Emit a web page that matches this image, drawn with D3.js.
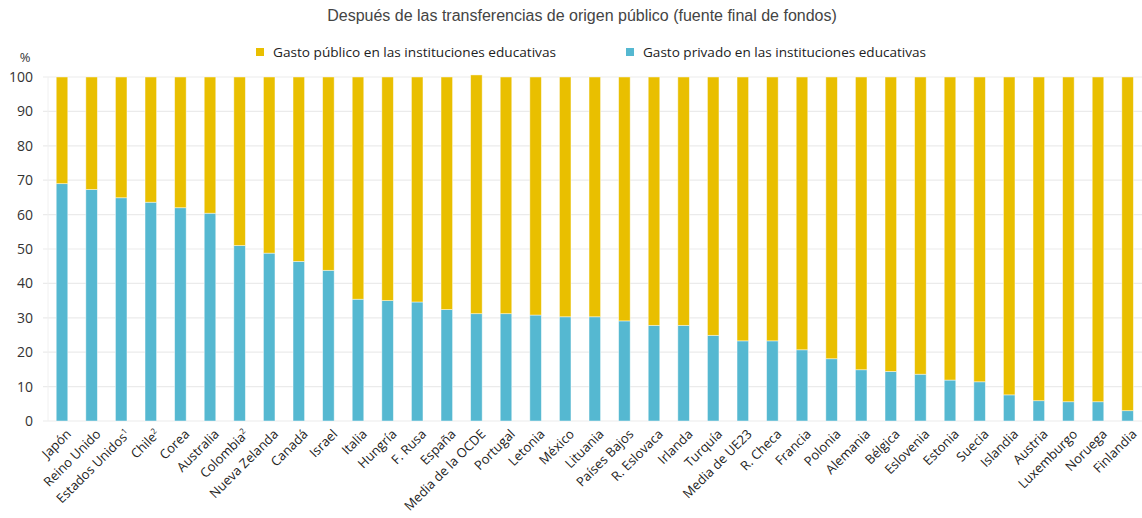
<!DOCTYPE html>
<html lang="es">
<head>
<meta charset="UTF-8" />
<title>Gasto público y privado</title>
<script src="https://cdn.jsdelivr.net/npm/d3@7"></script>
<style>
  body { margin: 0; background: #fff; }
  svg { display: block; }
</style>
</head>
<body>
<script>
    // data
    const countries = ["Japón", "Reino Unido", "Estados Unidos", "Chile", "Corea", "Australia", "Colombia",
        "Nueva Zelanda", "Canadá", "Israel", "Italia", "Hungría", "F. Rusa", "España", "Media de la OCDE",
        "Portugal", "Letonia", "México", "Lituania", "Países Bajos", "R. Eslovaca", "Irlanda", "Turquía",
        "Media de UE23", "R. Checa", "Francia", "Polonia", "Alemania", "Bélgica", "Eslovenia", "Estonia",
        "Suecia", "Islandia", "Austria", "Luxemburgo", "Noruega", "Finlandia"];
    const notes = { "Estados Unidos": "1", "Chile": "2", "Colombia": "2" };

    const privado = [69.0, 67.3, 64.9, 63.6, 62.0, 60.4, 51.0, 48.8, 46.4, 43.8, 35.4, 35.0, 34.6, 32.4, 31.2,
        31.2, 30.8, 30.3, 30.3, 29.1, 27.8, 27.8, 24.9, 23.3, 23.3, 20.7, 18.1, 14.9, 14.4, 13.6, 11.9,
        11.4, 7.6, 5.9, 5.6, 5.6, 3.0];
    const publico = [31.0, 32.7, 35.1, 36.4, 38.0, 39.6, 49.0, 51.2, 53.6, 56.2, 64.6, 65.0, 65.4, 67.6, 69.4,
        68.8, 69.2, 69.7, 69.7, 70.9, 72.2, 72.2, 75.1, 76.7, 76.7, 79.3, 81.9, 85.1, 85.6, 86.4, 88.1,
        88.6, 92.4, 94.1, 94.4, 94.4, 97.0];

    const yTicks = [0, 10, 20, 30, 40, 50, 60, 70, 80, 90, 100];
    const seriesNames = ["Gasto público en las instituciones educativas", "Gasto privado en las instituciones educativas"];
    const title = "Después de las transferencias de origen público (fuente final de fondos)";

    const w = 1142, h = 518;
    const colPub = "#e9bf00", colPriv = "#55b8d1";
    const font = "'Open Sans', sans-serif";

    const svg = d3.select("body").append("svg")
        .attr("width", w)
        .attr("height", h);

    const x = d3.scaleBand()
        .domain(countries)
        .range([47.2, 1142.4])
        .paddingInner(0.61)
        .paddingOuter(0.305);

    const y = d3.scaleLinear()
        .domain([0, 100])
        .range([421, 77]);

    // grid
    svg.append("g")
        .selectAll("line")
        .data(yTicks)
        .join("line")
        .attr("x1", 43).attr("x2", w)
        .attr("y1", d => y(d)).attr("y2", d => y(d))
        .attr("stroke", "#ebebeb")
        .attr("stroke-width", 1.2);

    svg.append("line")
        .attr("x1", 48).attr("x2", 48)
        .attr("y1", y(100)).attr("y2", y(0))
        .attr("stroke", "#f0f0f0");

    // y axis labels
    const yAxis = svg.append("g")
        .attr("transform", "translate(33,0)")
        .call(d3.axisLeft(y).tickValues(yTicks).tickSize(0).tickPadding(0));
    yAxis.select(".domain").remove();
    yAxis.selectAll("text")
        .attr("font-family", font)
        .attr("font-size", 14)
        .attr("fill", "#333");

    svg.append("text")
        .attr("x", 25).attr("y", 62)
        .attr("text-anchor", "middle")
        .attr("font-family", font)
        .attr("font-size", 13)
        .attr("fill", "#333")
        .text("%");

    // stacked bars
    const rows = countries.map((c, i) => ({ c, priv: privado[i], pub: publico[i] }));
    const bars = svg.append("g");

    bars.selectAll("rect.priv")
        .data(rows)
        .join("rect")
        .attr("class", "priv")
        .attr("x", d => x(d.c))
        .attr("width", x.bandwidth())
        .attr("y", d => y(d.priv))
        .attr("height", d => y(0) - y(d.priv))
        .attr("fill", colPriv)
        .attr("stroke", "rgba(255,255,255,0.55)")
        .attr("stroke-width", 0.8);

    bars.selectAll("rect.pub")
        .data(rows)
        .join("rect")
        .attr("class", "pub")
        .attr("x", d => x(d.c))
        .attr("width", x.bandwidth())
        .attr("y", d => y(d.priv + d.pub))
        .attr("height", d => y(d.priv) - y(d.priv + d.pub))
        .attr("fill", colPub)
        .attr("stroke", "rgba(255,255,255,0.55)")
        .attr("stroke-width", 0.8);

    // x labels
    const xl = svg.append("g")
        .selectAll("text")
        .data(countries)
        .join("text")
        .attr("transform", d => `translate(${x(d) + x.bandwidth() / 2 + 3},${428}) rotate(-45)`)
        .attr("text-anchor", "end")
        .attr("dy", "0.75em")
        .attr("font-family", font)
        .attr("font-size", 13)
        .attr("fill", "#222");
    xl.append("tspan").text(d => d);
    xl.filter(d => notes[d])
        .append("tspan")
        .attr("font-size", 8)
        .attr("dy", "-0.6em")
        .text(d => notes[d]);

    // title
    svg.append("text")
        .attr("x", 582).attr("y", 21)
        .attr("text-anchor", "middle")
        .attr("font-family", "'Liberation Sans', Arial, sans-serif")
        .attr("font-size", 16)
        .attr("fill", "#444")
        .text(title);

    // legend
    const leg = svg.append("g")
        .selectAll("g")
        .data(seriesNames)
        .join("g")
        .attr("transform", (d, i) => `translate(${[256, 626][i]},48)`);
    leg.append("rect")
        .attr("width", 8).attr("height", 8)
        .attr("fill", (d, i) => [colPub, colPriv][i]);
    leg.append("text")
        .attr("x", 17).attr("y", 9)
        .attr("font-family", font)
        .attr("font-size", 13.5)
        .attr("textLength", 283)
        .attr("lengthAdjust", "spacingAndGlyphs")
        .attr("fill", "#222")
        .text(d => d);
</script>
</body>
</html>
